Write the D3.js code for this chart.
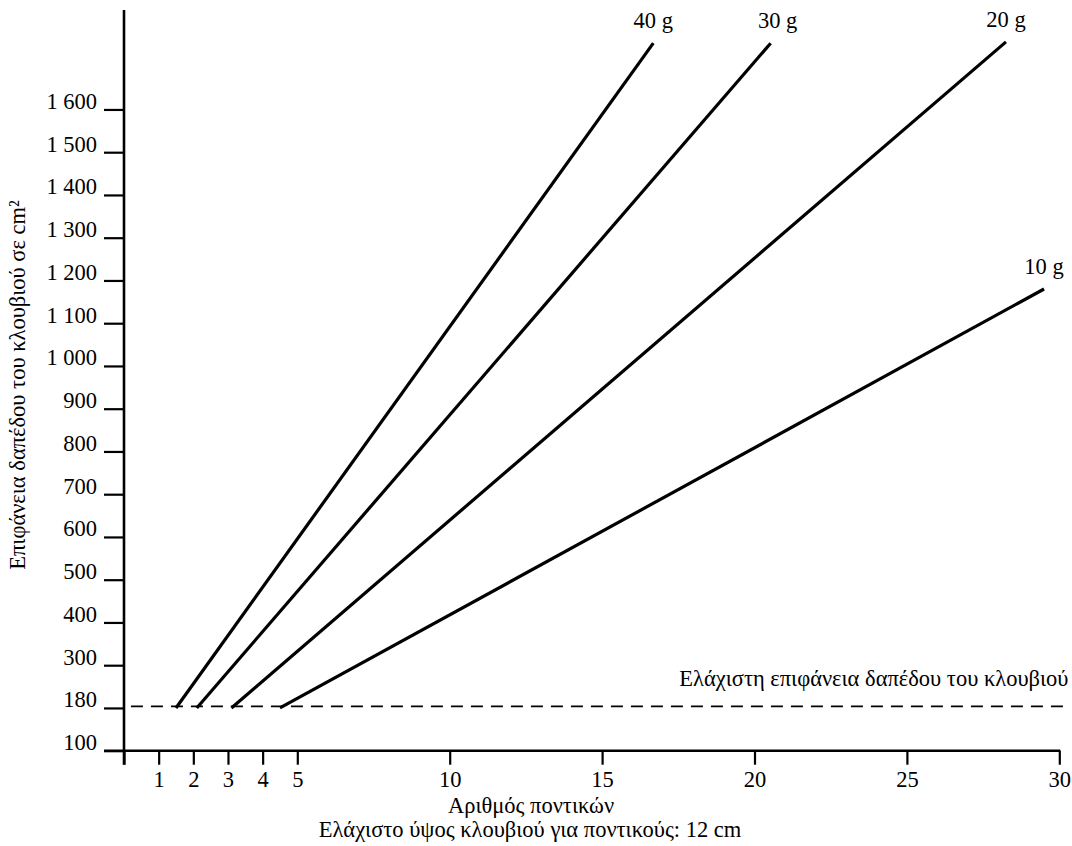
<!DOCTYPE html>
<html>
<head>
<meta charset="utf-8">
<script src="https://cdn.jsdelivr.net/npm/d3@7"></script>
<style>
  html, body { margin: 0; padding: 0; background: #fff; }
  svg { display: block; }
  text { font-family: "Liberation Serif", "DejaVu Serif", serif; fill: #000; }
</style>
</head>
<body>
<svg id="chart" width="1072" height="846"></svg>
<script>
// ---- data ----
const yTickValues = [100, 180, 300, 400, 500, 600, 700, 800, 900, 1000, 1100, 1200, 1300, 1400, 1500, 1600];
const yTickLabels = ["100", "180", "300", "400", "500", "600", "700", "800", "900", "1 000", "1 100", "1 200", "1 300", "1 400", "1 500", "1 600"];
const xTickValues = [0, 1, 2, 3, 4, 5, 10, 15, 20, 25, 30];
const xTickLabels = ["", "1", "2", "3", "4", "5", "10", "15", "20", "25", "30"];
const seriesNames = ["40 g", "30 g", "20 g", "10 g"];
const seriesStartX = [1.5, 2.1, 3.1, 4.5];
const seriesStartY = [180, 180, 180, 180];
const seriesEndX = [16.68, 20.53, 28.25, 29.5];
const seriesEndY = [1755, 1755, 1758, 1180];
const minimumArea = 180;
const minimumLineX = [0.2, 30.3];
const minimumLabel = "Ελάχιστη επιφάνεια δαπέδου του κλουβιού";
const yTitle = "Επιφάνεια δαπέδου του κλουβιού σε cm²";
const xTitle = "Αριθμός ποντικών";
const xSubtitle = "Ελάχιστο ύψος κλουβιού για ποντικούς: 12 cm";

// ---- layout ----
const FS = 22.5;
const svg = d3.select("#chart");
const x0 = 124, yBottom = 750.7, yStep = 42.75;
const xScale = d3.scaleLinear()
  .domain([0, 5, 30])
  .range([x0, 297.3, 1059.3]);
const yScale = d3.scaleLinear()
  .domain(yTickValues)
  .range(yTickValues.map((d, i) => yBottom - i * yStep));

// y axis
const yAxis = d3.axisLeft(yScale)
  .tickValues(yTickValues)
  .tickFormat((d, i) => yTickLabels[i])
  .tickSize(20)
  .tickPadding(7);
const gy = svg.append("g").attr("transform", `translate(${x0},0)`).call(yAxis);
gy.select(".domain").remove();
gy.selectAll(".tick line").attr("stroke", "#000").attr("stroke-width", 2.2);
gy.selectAll(".tick text")
  .attr("font-size", FS).attr("font-family", "Liberation Serif").attr("fill", "#000")
  .attr("dy", "-1");
svg.append("line")
  .attr("x1", x0).attr("x2", x0)
  .attr("y1", 10).attr("y2", yBottom + 14)
  .attr("stroke", "#000").attr("stroke-width", 2.6);

// x axis
const xAxis = d3.axisBottom(xScale)
  .tickValues(xTickValues)
  .tickFormat((d, i) => xTickLabels[i])
  .tickSize(14)
  .tickPadding(6);
const gx = svg.append("g").attr("transform", `translate(0,${yBottom})`).call(xAxis);
gx.select(".domain").remove();
gx.selectAll(".tick line").attr("stroke", "#000").attr("stroke-width", 2.2);
gx.selectAll(".tick text").attr("font-size", FS).attr("font-family", "Liberation Serif").attr("fill", "#000");
svg.append("line")
  .attr("x1", x0 - 20).attr("x2", xScale(30) + 1)
  .attr("y1", yBottom).attr("y2", yBottom)
  .attr("stroke", "#000").attr("stroke-width", 2.4);

// minimum area dashed line
svg.append("line")
  .attr("x1", xScale(minimumLineX[0])).attr("x2", xScale(minimumLineX[1]))
  .attr("y1", yScale(minimumArea) - 1.5).attr("y2", yScale(minimumArea) - 1.5)
  .attr("stroke", "#000").attr("stroke-width", 1.8)
  .attr("stroke-dasharray", "12,8");
svg.append("text")
  .attr("x", xScale(minimumLineX[1]))
  .attr("y", yScale(minimumArea) - 22)
  .attr("text-anchor", "end")
  .attr("font-size", FS)
  .text(minimumLabel);

// series lines
const line = d3.line().x(d => xScale(d[0])).y(d => yScale(d[1]));
seriesNames.forEach((name, i) => {
  const pts = [[seriesStartX[i], seriesStartY[i]], [seriesEndX[i], seriesEndY[i]]];
  svg.append("path")
    .attr("d", line(pts))
    .attr("fill", "none")
    .attr("stroke", "#000")
    .attr("stroke-width", 3.2);
  svg.append("text")
    .attr("x", xScale(seriesEndX[i]) + (i === 1 ? 7 : 0))
    .attr("y", yScale(seriesEndY[i]) - 15)
    .attr("text-anchor", "middle")
    .attr("font-size", FS)
    .text(name);
});

// titles
svg.append("text")
  .attr("transform", `translate(25,385) rotate(-90)`)
  .attr("text-anchor", "middle")
  .attr("font-size", FS)
  .text(yTitle);
svg.append("text")
  .attr("x", 531).attr("y", 813)
  .attr("text-anchor", "middle")
  .attr("font-size", FS)
  .text(xTitle);
svg.append("text")
  .attr("x", 530).attr("y", 837)
  .attr("text-anchor", "middle")
  .attr("font-size", FS)
  .text(xSubtitle);
</script>
</body>
</html>
